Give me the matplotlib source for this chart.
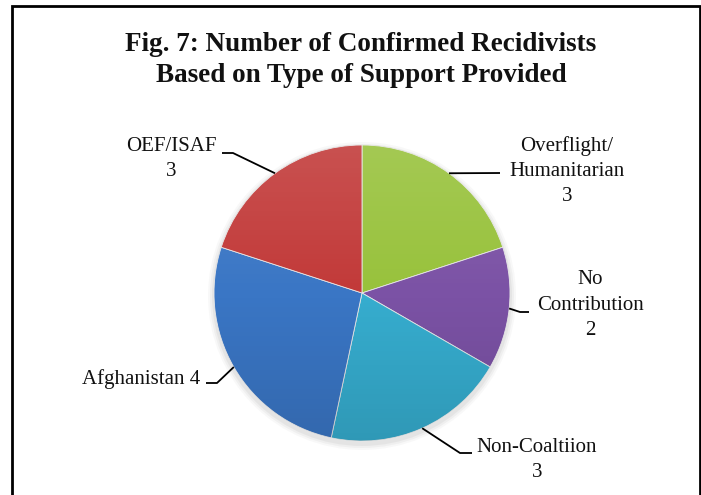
import numpy as np
import matplotlib
matplotlib.use("Agg")
import matplotlib.pyplot as plt
from matplotlib.patches import Circle

# data
labels = ["Overflight/\nHumanitarian\n3", "No\nContribution\n2", "Non-Coaltiion\n3",
          "Afghanistan 4", "OEF/ISAF\n3"]
values = [3, 2, 3, 4, 3]
colors = ["#98c23c", "#7b52a5", "#36adcf", "#3a76c5", "#c23a39"]

title = "Fig. 7: Number of Confirmed Recidivists\nBased on Type of Support Provided"

W, H = 701, 495
plt.rcParams['font.family'] = ['Liberation Serif', 'DejaVu Serif']

fig = plt.figure(figsize=(W / 100, H / 100), dpi=100)
ax = fig.add_axes([0, 0, 1, 1])

cx, cy, r = 362, H - 293, 148

# soft shadow under the pie
for k, a in [(6, 0.05), (4, 0.07), (2, 0.09)]:
    ax.add_patch(Circle((cx, cy - 3), r + k, color="#808080", alpha=a, lw=0, zorder=0))

wedges, _ = ax.pie(values, colors=colors, startangle=90, counterclock=False,
                   center=(cx, cy), radius=r, frame=True,
                   wedgeprops=dict(edgecolor="#e8e8e8", linewidth=0.6))
for w in wedges:
    w.set_zorder(1)

# light from the top, darker to the bottom
grad = np.zeros((256, 2, 4))
t = np.linspace(0, 1, 256)
grad[:, :, :3] = np.where(t[:, None, None] < 0.5, 1.0, 0.0)
grad[:, :, 3] = (np.abs(t - 0.5) * 0.24)[:, None]
im = ax.imshow(grad, extent=(cx - r, cx + r, cy - r, cy + r), origin="upper",
               aspect="auto", zorder=2, interpolation="bilinear")
im.set_clip_path(Circle((cx, cy), r, transform=ax.transData))

# label block centres (pixels from top) and leader elbows
label_pos = [(567, 171), (590, 305), (537, 460), (141, 379), (171, 159)]
elbows = [[(500, 173)],
          [(520, 312), (529, 312)],
          [(460, 453), (472, 453)],
          [(217, 383), (206, 383)],
          [(233, 153), (222, 153)]]

for w, lab, (lx, ly), el in zip(wedges, labels, label_pos, elbows):
    mid = np.deg2rad((w.theta1 + w.theta2) / 2)
    ex, ey = cx + r * np.cos(mid), cy + r * np.sin(mid)
    xs = [ex] + [p[0] for p in el]
    ys = [ey] + [H - p[1] for p in el]
    ax.plot(xs, ys, color="black", lw=1.3, zorder=3, solid_capstyle="butt")
    ax.text(lx, H - ly, lab, ha="center", va="center", fontsize=15,
            linespacing=1.45, color="#111111", zorder=4)

ax.text(361, H - 60, title, ha="center", va="center", fontsize=19.5,
        fontweight="bold", linespacing=1.3, color="#111111")

# frame around the chart
ax.plot([11.5, 11.5, 699.5, 699.5], [0, H - 6, H - 6, 0], color="black", lw=2,
        solid_joinstyle="miter")

ax.set_xlim(0, W)
ax.set_ylim(0, H)
ax.set_aspect("auto")
ax.axis("off")

fig.savefig("out.png", dpi=100)
